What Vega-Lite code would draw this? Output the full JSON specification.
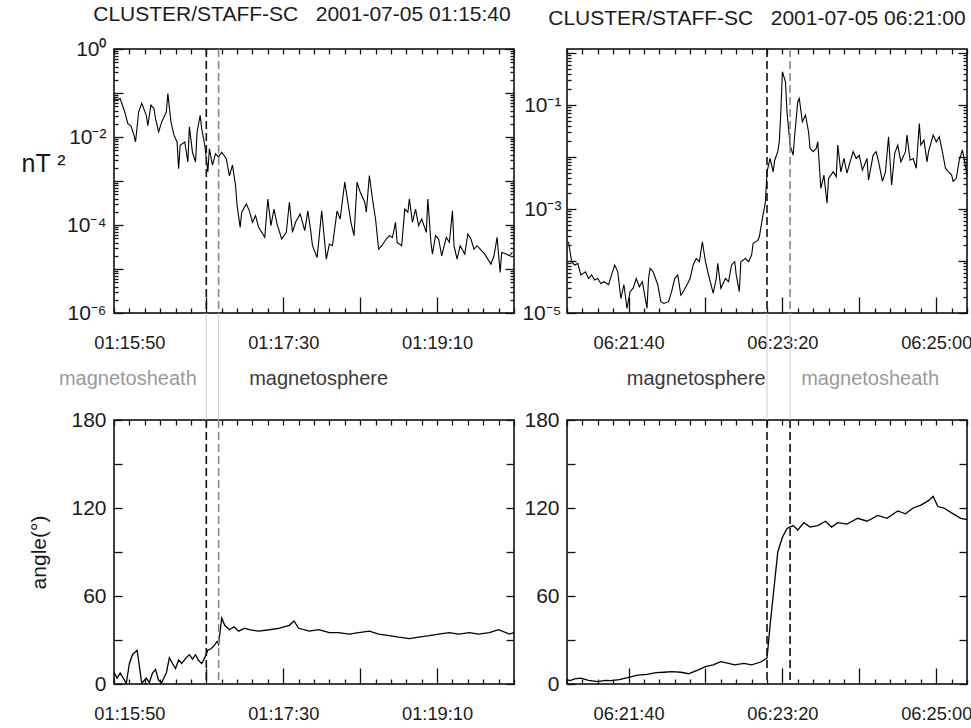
{
"$schema":"https://vega.github.io/schema/vega-lite/v6.json",
"padding":{"left":20,"top":3,"right":0,"bottom":0},
"background":"white",
"columns":2,
"spacing":{"row":107,"column":53},
"bounds":"flush",
"datasets":{
"pl":[
{"t":"2001-07-05T01:15:40Z","v":0.075},{"t":"2001-07-05T01:15:42Z","v":0.069},{"t":"2001-07-05T01:15:44Z","v":0.075},{"t":"2001-07-05T01:15:47Z","v":0.037},{"t":"2001-07-05T01:15:49Z","v":0.02},{"t":"2001-07-05T01:15:51Z","v":0.018},{"t":"2001-07-05T01:15:53Z","v":0.011},{"t":"2001-07-05T01:15:54Z","v":0.0077},{"t":"2001-07-05T01:15:56Z","v":0.037},{"t":"2001-07-05T01:15:58Z","v":0.058},
{"t":"2001-07-05T01:16:01Z","v":0.031},{"t":"2001-07-05T01:16:02Z","v":0.018},{"t":"2001-07-05T01:16:04Z","v":0.053},{"t":"2001-07-05T01:16:06Z","v":0.044},{"t":"2001-07-05T01:16:07Z","v":0.026},{"t":"2001-07-05T01:16:09Z","v":0.013},{"t":"2001-07-05T01:16:11Z","v":0.022},{"t":"2001-07-05T01:16:14Z","v":0.037},{"t":"2001-07-05T01:16:15Z","v":0.097},{"t":"2001-07-05T01:16:17Z","v":0.022},
{"t":"2001-07-05T01:16:19Z","v":0.011},{"t":"2001-07-05T01:16:21Z","v":0.0077},{"t":"2001-07-05T01:16:22Z","v":0.0019},{"t":"2001-07-05T01:16:23Z","v":0.0065},{"t":"2001-07-05T01:16:26Z","v":0.0077},{"t":"2001-07-05T01:16:28Z","v":0.0027},{"t":"2001-07-05T01:16:29Z","v":0.017},{"t":"2001-07-05T01:16:31Z","v":0.0045},{"t":"2001-07-05T01:16:33Z","v":0.0027},{"t":"2001-07-05T01:16:34Z","v":0.013},
{"t":"2001-07-05T01:16:36Z","v":0.031},{"t":"2001-07-05T01:16:37Z","v":0.0155},{"t":"2001-07-05T01:16:39Z","v":0.0065},{"t":"2001-07-05T01:16:41Z","v":0.0016},{"t":"2001-07-05T01:16:42Z","v":0.0054},{"t":"2001-07-05T01:16:44Z","v":0.0023},{"t":"2001-07-05T01:16:46Z","v":0.0042},{"t":"2001-07-05T01:16:48Z","v":0.0035},{"t":"2001-07-05T01:16:50Z","v":0.0045},{"t":"2001-07-05T01:16:53Z","v":0.0032},
{"t":"2001-07-05T01:16:55Z","v":0.0013},{"t":"2001-07-05T01:16:57Z","v":0.0023},{"t":"2001-07-05T01:16:59Z","v":0.00079},{"t":"2001-07-05T01:17:00Z","v":0.00028},{"t":"2001-07-05T01:17:02Z","v":0.0000885},{"t":"2001-07-05T01:17:03Z","v":0.000195},{"t":"2001-07-05T01:17:06Z","v":0.0003},{"t":"2001-07-05T01:17:08Z","v":0.00021},{"t":"2001-07-05T01:17:10Z","v":0.000115},{"t":"2001-07-05T01:17:12Z","v":0.000163},
{"t":"2001-07-05T01:17:14Z","v":0.0000885},{"t":"2001-07-05T01:17:18Z","v":0.0000523},{"t":"2001-07-05T01:17:20Z","v":0.00039},{"t":"2001-07-05T01:17:22Z","v":0.0000966},{"t":"2001-07-05T01:17:24Z","v":0.00023},{"t":"2001-07-05T01:17:26Z","v":0.000105},{"t":"2001-07-05T01:17:29Z","v":0.000048},{"t":"2001-07-05T01:17:32Z","v":0.000068},{"t":"2001-07-05T01:17:34Z","v":0.00033},{"t":"2001-07-05T01:17:36Z","v":0.000068},
{"t":"2001-07-05T01:17:38Z","v":0.000115},{"t":"2001-07-05T01:17:41Z","v":0.000178},{"t":"2001-07-05T01:17:44Z","v":0.0000743},{"t":"2001-07-05T01:17:46Z","v":0.00021},{"t":"2001-07-05T01:17:48Z","v":0.000068},{"t":"2001-07-05T01:17:49Z","v":0.0000338},{"t":"2001-07-05T01:17:52Z","v":0.0000183},{"t":"2001-07-05T01:17:53Z","v":0.0000403},{"t":"2001-07-05T01:17:55Z","v":0.00021},{"t":"2001-07-05T01:17:58Z","v":0.0000168},
{"t":"2001-07-05T01:18:00Z","v":0.0000369},{"t":"2001-07-05T01:18:02Z","v":0.0000338},{"t":"2001-07-05T01:18:05Z","v":0.00021},{"t":"2001-07-05T01:18:07Z","v":0.000137},{"t":"2001-07-05T01:18:10Z","v":0.00094},{"t":"2001-07-05T01:18:12Z","v":0.00033},{"t":"2001-07-05T01:18:14Z","v":0.000115},{"t":"2001-07-05T01:18:16Z","v":0.0000571},{"t":"2001-07-05T01:18:18Z","v":0.00094},{"t":"2001-07-05T01:18:20Z","v":0.00056},
{"t":"2001-07-05T01:18:23Z","v":0.00033},{"t":"2001-07-05T01:18:24Z","v":0.000195},{"t":"2001-07-05T01:18:26Z","v":0.00133},{"t":"2001-07-05T01:18:28Z","v":0.00039},{"t":"2001-07-05T01:18:30Z","v":0.000137},{"t":"2001-07-05T01:18:32Z","v":0.0000283},{"t":"2001-07-05T01:18:34Z","v":0.0000338},{"t":"2001-07-05T01:18:37Z","v":0.000048},{"t":"2001-07-05T01:18:39Z","v":0.0000571},{"t":"2001-07-05T01:18:41Z","v":0.0000523},
{"t":"2001-07-05T01:18:43Z","v":0.000115},{"t":"2001-07-05T01:18:44Z","v":0.0000403},{"t":"2001-07-05T01:18:47Z","v":0.0000338},{"t":"2001-07-05T01:18:49Z","v":0.00023},{"t":"2001-07-05T01:18:51Z","v":0.000195},{"t":"2001-07-05T01:18:52Z","v":0.00039},{"t":"2001-07-05T01:18:54Z","v":0.000115},{"t":"2001-07-05T01:18:56Z","v":0.00023},{"t":"2001-07-05T01:18:58Z","v":0.0000966},{"t":"2001-07-05T01:19:00Z","v":0.000137},
{"t":"2001-07-05T01:19:03Z","v":0.000068},{"t":"2001-07-05T01:19:04Z","v":0.00039},{"t":"2001-07-05T01:19:06Z","v":0.0000403},{"t":"2001-07-05T01:19:07Z","v":0.0000218},{"t":"2001-07-05T01:19:09Z","v":0.0000571},{"t":"2001-07-05T01:19:11Z","v":0.000048},{"t":"2001-07-05T01:19:13Z","v":0.00002},{"t":"2001-07-05T01:19:16Z","v":0.0000523},{"t":"2001-07-05T01:19:18Z","v":0.0000403},{"t":"2001-07-05T01:19:20Z","v":0.00021},
{"t":"2001-07-05T01:19:21Z","v":0.0000338},{"t":"2001-07-05T01:19:23Z","v":0.0000168},{"t":"2001-07-05T01:19:25Z","v":0.0000338},{"t":"2001-07-05T01:19:28Z","v":0.0000218},{"t":"2001-07-05T01:19:30Z","v":0.0000624},{"t":"2001-07-05T01:19:32Z","v":0.000048},{"t":"2001-07-05T01:19:34Z","v":0.0000283},{"t":"2001-07-05T01:19:36Z","v":0.0000338},{"t":"2001-07-05T01:19:38Z","v":0.0000283},{"t":"2001-07-05T01:19:41Z","v":0.0000218},
{"t":"2001-07-05T01:19:43Z","v":0.0000168},{"t":"2001-07-05T01:19:45Z","v":0.0000129},{"t":"2001-07-05T01:19:47Z","v":0.00002},{"t":"2001-07-05T01:19:49Z","v":0.0000523},{"t":"2001-07-05T01:19:51Z","v":0.0000083},{"t":"2001-07-05T01:19:52Z","v":0.0000238},{"t":"2001-07-05T01:19:55Z","v":0.0000218},{"t":"2001-07-05T01:19:57Z","v":0.00002},{"t":"2001-07-05T01:19:59Z","v":0.0000238}
],
"pr":[
{"t":"2001-07-05T06:21:01Z","v":0.000235},{"t":"2001-07-05T06:21:03Z","v":0.000097},{"t":"2001-07-05T06:21:05Z","v":0.000084},{"t":"2001-07-05T06:21:07Z","v":0.00009},{"t":"2001-07-05T06:21:09Z","v":0.000054},{"t":"2001-07-05T06:21:12Z","v":0.000062},{"t":"2001-07-05T06:21:14Z","v":0.000046},{"t":"2001-07-05T06:21:16Z","v":0.000054},{"t":"2001-07-05T06:21:18Z","v":0.000043},{"t":"2001-07-05T06:21:20Z","v":0.000046},
{"t":"2001-07-05T06:21:22Z","v":0.000037},{"t":"2001-07-05T06:21:24Z","v":0.00004},{"t":"2001-07-05T06:21:27Z","v":0.000035},{"t":"2001-07-05T06:21:29Z","v":0.000054},{"t":"2001-07-05T06:21:31Z","v":0.000084},{"t":"2001-07-05T06:21:33Z","v":0.000062},{"t":"2001-07-05T06:21:35Z","v":0.000019},{"t":"2001-07-05T06:21:37Z","v":0.000035},{"t":"2001-07-05T06:21:39Z","v":0.0000123},{"t":"2001-07-05T06:21:41Z","v":0.0000257},
{"t":"2001-07-05T06:21:43Z","v":0.00003},{"t":"2001-07-05T06:21:45Z","v":0.000046},{"t":"2001-07-05T06:21:47Z","v":0.000032},{"t":"2001-07-05T06:21:49Z","v":0.00004},{"t":"2001-07-05T06:21:52Z","v":0.0000123},{"t":"2001-07-05T06:21:53Z","v":0.000046},{"t":"2001-07-05T06:21:54Z","v":0.000072},{"t":"2001-07-05T06:21:56Z","v":0.000062},{"t":"2001-07-05T06:21:59Z","v":0.000035},{"t":"2001-07-05T06:22:01Z","v":0.0000165},
{"t":"2001-07-05T06:22:03Z","v":0.0000153},{"t":"2001-07-05T06:22:06Z","v":0.0000165},{"t":"2001-07-05T06:22:08Z","v":0.0000257},{"t":"2001-07-05T06:22:10Z","v":0.000046},{"t":"2001-07-05T06:22:12Z","v":0.000054},{"t":"2001-07-05T06:22:14Z","v":0.000022},{"t":"2001-07-05T06:22:15Z","v":0.000024},{"t":"2001-07-05T06:22:18Z","v":0.000035},{"t":"2001-07-05T06:22:20Z","v":0.000046},{"t":"2001-07-05T06:22:22Z","v":0.000084},
{"t":"2001-07-05T06:22:24Z","v":0.000112},{"t":"2001-07-05T06:22:26Z","v":0.000097},{"t":"2001-07-05T06:22:28Z","v":0.000235},{"t":"2001-07-05T06:22:30Z","v":0.000097},{"t":"2001-07-05T06:22:32Z","v":0.000054},{"t":"2001-07-05T06:22:35Z","v":0.000024},{"t":"2001-07-05T06:22:37Z","v":0.000046},{"t":"2001-07-05T06:22:38Z","v":0.00009},{"t":"2001-07-05T06:22:40Z","v":0.00003},{"t":"2001-07-05T06:22:43Z","v":0.000046},
{"t":"2001-07-05T06:22:45Z","v":0.00004},{"t":"2001-07-05T06:22:47Z","v":0.000084},{"t":"2001-07-05T06:22:49Z","v":0.000097},{"t":"2001-07-05T06:22:50Z","v":0.000054},{"t":"2001-07-05T06:22:52Z","v":0.0000257},{"t":"2001-07-05T06:22:53Z","v":0.000097},{"t":"2001-07-05T06:22:56Z","v":0.000112},{"t":"2001-07-05T06:22:58Z","v":0.000097},{"t":"2001-07-05T06:23:00Z","v":0.00013},{"t":"2001-07-05T06:23:01Z","v":0.000219},
{"t":"2001-07-05T06:23:04Z","v":0.00025},{"t":"2001-07-05T06:23:05Z","v":0.00029},{"t":"2001-07-05T06:23:07Z","v":0.00066},{"t":"2001-07-05T06:23:09Z","v":0.00138},{"t":"2001-07-05T06:23:10Z","v":0.0052},{"t":"2001-07-05T06:23:12Z","v":0.0094},{"t":"2001-07-05T06:23:14Z","v":0.0052},{"t":"2001-07-05T06:23:15Z","v":0.0087},{"t":"2001-07-05T06:23:17Z","v":0.0127},{"t":"2001-07-05T06:23:18Z","v":0.0197},
{"t":"2001-07-05T06:23:19Z","v":0.0744},{"t":"2001-07-05T06:23:20Z","v":0.438},{"t":"2001-07-05T06:23:22Z","v":0.281},{"t":"2001-07-05T06:23:23Z","v":0.0744},{"t":"2001-07-05T06:23:25Z","v":0.017},{"t":"2001-07-05T06:23:27Z","v":0.0109},{"t":"2001-07-05T06:23:28Z","v":0.0265},{"t":"2001-07-05T06:23:30Z","v":0.116},{"t":"2001-07-05T06:23:31Z","v":0.134},{"t":"2001-07-05T06:23:33Z","v":0.0478},
{"t":"2001-07-05T06:23:35Z","v":0.0642},{"t":"2001-07-05T06:23:37Z","v":0.0307},{"t":"2001-07-05T06:23:38Z","v":0.0147},{"t":"2001-07-05T06:23:40Z","v":0.0127},{"t":"2001-07-05T06:23:42Z","v":0.0147},{"t":"2001-07-05T06:23:43Z","v":0.0197},{"t":"2001-07-05T06:23:45Z","v":0.0025},{"t":"2001-07-05T06:23:47Z","v":0.0045},{"t":"2001-07-05T06:23:49Z","v":0.00129},{"t":"2001-07-05T06:23:50Z","v":0.0039},
{"t":"2001-07-05T06:23:53Z","v":0.0052},{"t":"2001-07-05T06:23:55Z","v":0.0042},{"t":"2001-07-05T06:23:56Z","v":0.017},{"t":"2001-07-05T06:23:58Z","v":0.0052},{"t":"2001-07-05T06:24:00Z","v":0.0094},{"t":"2001-07-05T06:24:02Z","v":0.0049},{"t":"2001-07-05T06:24:04Z","v":0.0081},{"t":"2001-07-05T06:24:06Z","v":0.0127},{"t":"2001-07-05T06:24:08Z","v":0.0094},{"t":"2001-07-05T06:24:10Z","v":0.0109},
{"t":"2001-07-05T06:24:12Z","v":0.0056},{"t":"2001-07-05T06:24:15Z","v":0.0094},{"t":"2001-07-05T06:24:16Z","v":0.0036},{"t":"2001-07-05T06:24:19Z","v":0.0109},{"t":"2001-07-05T06:24:21Z","v":0.0127},{"t":"2001-07-05T06:24:23Z","v":0.007},{"t":"2001-07-05T06:24:25Z","v":0.0034},{"t":"2001-07-05T06:24:27Z","v":0.0052},{"t":"2001-07-05T06:24:29Z","v":0.0246},{"t":"2001-07-05T06:24:31Z","v":0.0029},
{"t":"2001-07-05T06:24:33Z","v":0.0118},{"t":"2001-07-05T06:24:35Z","v":0.017},{"t":"2001-07-05T06:24:37Z","v":0.0081},{"t":"2001-07-05T06:24:40Z","v":0.0127},{"t":"2001-07-05T06:24:41Z","v":0.0265},{"t":"2001-07-05T06:24:43Z","v":0.0087},{"t":"2001-07-05T06:24:45Z","v":0.0094},{"t":"2001-07-05T06:24:47Z","v":0.0061},{"t":"2001-07-05T06:24:49Z","v":0.0444},{"t":"2001-07-05T06:24:50Z","v":0.017},
{"t":"2001-07-05T06:24:52Z","v":0.0212},{"t":"2001-07-05T06:24:54Z","v":0.0081},{"t":"2001-07-05T06:24:55Z","v":0.0127},{"t":"2001-07-05T06:24:58Z","v":0.0265},{"t":"2001-07-05T06:25:00Z","v":0.0197},{"t":"2001-07-05T06:25:02Z","v":0.0246},{"t":"2001-07-05T06:25:04Z","v":0.0127},{"t":"2001-07-05T06:25:06Z","v":0.0061},{"t":"2001-07-05T06:25:08Z","v":0.0052},{"t":"2001-07-05T06:25:10Z","v":0.0045},
{"t":"2001-07-05T06:25:11Z","v":0.0034},{"t":"2001-07-05T06:25:13Z","v":0.0039},{"t":"2001-07-05T06:25:15Z","v":0.0087},{"t":"2001-07-05T06:25:17Z","v":0.0137},{"t":"2001-07-05T06:25:20Z","v":0.0045}
],
"al":[
{"t":"2001-07-05T01:15:40Z","a":8},{"t":"2001-07-05T01:15:42Z","a":4},{"t":"2001-07-05T01:15:44Z","a":7.5},{"t":"2001-07-05T01:15:48Z","a":0.5},{"t":"2001-07-05T01:15:50Z","a":14},{"t":"2001-07-05T01:15:52Z","a":20},{"t":"2001-07-05T01:15:55Z","a":23},{"t":"2001-07-05T01:15:56Z","a":16},{"t":"2001-07-05T01:15:58Z","a":0.5},{"t":"2001-07-05T01:16:01Z","a":4},
{"t":"2001-07-05T01:16:03Z","a":1},{"t":"2001-07-05T01:16:05Z","a":7.5},{"t":"2001-07-05T01:16:07Z","a":10},{"t":"2001-07-05T01:16:09Z","a":2.5},{"t":"2001-07-05T01:16:11Z","a":1},{"t":"2001-07-05T01:16:14Z","a":7.5},{"t":"2001-07-05T01:16:16Z","a":18},{"t":"2001-07-05T01:16:18Z","a":14},{"t":"2001-07-05T01:16:20Z","a":10.6},{"t":"2001-07-05T01:16:22Z","a":16.4},
{"t":"2001-07-05T01:16:24Z","a":14},{"t":"2001-07-05T01:16:27Z","a":18},{"t":"2001-07-05T01:16:29Z","a":20},{"t":"2001-07-05T01:16:31Z","a":17},{"t":"2001-07-05T01:16:33Z","a":20},{"t":"2001-07-05T01:16:35Z","a":16},{"t":"2001-07-05T01:16:37Z","a":14},{"t":"2001-07-05T01:16:39Z","a":18},{"t":"2001-07-05T01:16:41Z","a":23},{"t":"2001-07-05T01:16:43Z","a":24},
{"t":"2001-07-05T01:16:45Z","a":26},{"t":"2001-07-05T01:16:47Z","a":29},{"t":"2001-07-05T01:16:48Z","a":27},{"t":"2001-07-05T01:16:50Z","a":45},{"t":"2001-07-05T01:16:52Z","a":40},{"t":"2001-07-05T01:16:55Z","a":37},{"t":"2001-07-05T01:16:58Z","a":39},{"t":"2001-07-05T01:17:01Z","a":36},{"t":"2001-07-05T01:17:05Z","a":38},{"t":"2001-07-05T01:17:08Z","a":37},
{"t":"2001-07-05T01:17:14Z","a":36},{"t":"2001-07-05T01:17:21Z","a":37},{"t":"2001-07-05T01:17:27Z","a":38},{"t":"2001-07-05T01:17:34Z","a":40},{"t":"2001-07-05T01:17:37Z","a":43},{"t":"2001-07-05T01:17:40Z","a":38},{"t":"2001-07-05T01:17:47Z","a":36},{"t":"2001-07-05T01:17:53Z","a":37},{"t":"2001-07-05T01:18:00Z","a":35},{"t":"2001-07-05T01:18:06Z","a":35},
{"t":"2001-07-05T01:18:13Z","a":34},{"t":"2001-07-05T01:18:19Z","a":35},{"t":"2001-07-05T01:18:26Z","a":36},{"t":"2001-07-05T01:18:32Z","a":34},{"t":"2001-07-05T01:18:39Z","a":33},{"t":"2001-07-05T01:18:45Z","a":32},{"t":"2001-07-05T01:18:52Z","a":31},{"t":"2001-07-05T01:18:58Z","a":32},{"t":"2001-07-05T01:19:05Z","a":33},{"t":"2001-07-05T01:19:11Z","a":34},
{"t":"2001-07-05T01:19:18Z","a":35},{"t":"2001-07-05T01:19:24Z","a":34},{"t":"2001-07-05T01:19:31Z","a":35},{"t":"2001-07-05T01:19:37Z","a":34},{"t":"2001-07-05T01:19:44Z","a":35},{"t":"2001-07-05T01:19:50Z","a":37},{"t":"2001-07-05T01:19:57Z","a":34},{"t":"2001-07-05T01:20:00Z","a":35}
],
"ar":[
{"t":"2001-07-05T06:21:00Z","a":3},{"t":"2001-07-05T06:21:02Z","a":2.3},{"t":"2001-07-05T06:21:05Z","a":3.5},{"t":"2001-07-05T06:21:09Z","a":4},{"t":"2001-07-05T06:21:14Z","a":2.5},{"t":"2001-07-05T06:21:20Z","a":1.6},{"t":"2001-07-05T06:21:25Z","a":2.5},{"t":"2001-07-05T06:21:29Z","a":2.3},{"t":"2001-07-05T06:21:34Z","a":3},{"t":"2001-07-05T06:21:38Z","a":4},
{"t":"2001-07-05T06:21:42Z","a":5},{"t":"2001-07-05T06:21:46Z","a":6.1},{"t":"2001-07-05T06:21:52Z","a":6.5},{"t":"2001-07-05T06:21:58Z","a":7.7},{"t":"2001-07-05T06:22:03Z","a":8},{"t":"2001-07-05T06:22:08Z","a":8.4},{"t":"2001-07-05T06:22:14Z","a":8},{"t":"2001-07-05T06:22:19Z","a":7},{"t":"2001-07-05T06:22:25Z","a":9.5},{"t":"2001-07-05T06:22:30Z","a":11.8},
{"t":"2001-07-05T06:22:35Z","a":13},{"t":"2001-07-05T06:22:40Z","a":15.2},{"t":"2001-07-05T06:22:45Z","a":14},{"t":"2001-07-05T06:22:49Z","a":13},{"t":"2001-07-05T06:22:55Z","a":14},{"t":"2001-07-05T06:23:00Z","a":13},{"t":"2001-07-05T06:23:06Z","a":15},{"t":"2001-07-05T06:23:10Z","a":17.7},{"t":"2001-07-05T06:23:12Z","a":40},{"t":"2001-07-05T06:23:15Z","a":70},
{"t":"2001-07-05T06:23:17Z","a":90},{"t":"2001-07-05T06:23:20Z","a":100},{"t":"2001-07-05T06:23:23Z","a":106},{"t":"2001-07-05T06:23:27Z","a":108},{"t":"2001-07-05T06:23:30Z","a":105},{"t":"2001-07-05T06:23:34Z","a":110},{"t":"2001-07-05T06:23:38Z","a":107},{"t":"2001-07-05T06:23:43Z","a":108},{"t":"2001-07-05T06:23:48Z","a":111},{"t":"2001-07-05T06:23:52Z","a":107},
{"t":"2001-07-05T06:23:56Z","a":110},{"t":"2001-07-05T06:24:02Z","a":109},{"t":"2001-07-05T06:24:09Z","a":113},{"t":"2001-07-05T06:24:15Z","a":111},{"t":"2001-07-05T06:24:22Z","a":115},{"t":"2001-07-05T06:24:28Z","a":113},{"t":"2001-07-05T06:24:35Z","a":118},{"t":"2001-07-05T06:24:40Z","a":116},{"t":"2001-07-05T06:24:45Z","a":120},{"t":"2001-07-05T06:24:50Z","a":122},
{"t":"2001-07-05T06:24:55Z","a":125},{"t":"2001-07-05T06:24:58Z","a":128},{"t":"2001-07-05T06:25:01Z","a":121},{"t":"2001-07-05T06:25:05Z","a":120},{"t":"2001-07-05T06:25:11Z","a":116},{"t":"2001-07-05T06:25:16Z","a":113},{"t":"2001-07-05T06:25:20Z","a":112}
],
"el":[{"t":"2001-07-05T01:16:40Z","edge":"first"},{"t":"2001-07-05T01:16:48Z","edge":"second"}],
"er":[{"t":"2001-07-05T06:23:10Z","edge":"first"},{"t":"2001-07-05T06:23:25Z","edge":"second"}],
"zl":[{"t":"2001-07-05T01:15:49Z","label":"magnetosheath","zone":"sheath"},{"t":"2001-07-05T01:17:53Z","label":"magnetosphere","zone":"sphere"}],
"zr":[{"t":"2001-07-05T06:22:24Z","label":"magnetosphere","zone":"sphere"},{"t":"2001-07-05T06:24:17Z","label":"magnetosheath","zone":"sheath"}]
},
"concat":[
{
"width":400,"height":264,
"title":{"text":"CLUSTER/STAFF-SC\u00a0\u00a0\u00a02001-07-05 01:15:40","fontSize":21,"font":"Liberation Sans","fontWeight":"normal","color":"#1a1a1a","anchor":"middle","dx":-12,"baseline":"bottom","offset":-8},
"data":{"name":"pl"},
"layer":[
{"mark":{"type":"line","color":"black","strokeWidth":1.1},
"encoding":{
"x":{"field":"t","type":"temporal","scale":{"type":"utc","domain":[994295740000,994296000000],"nice":false},
 "axis":{"orient":"bottom","values":[994295740000,994295750000,994295760000,994295770000,994295780000,994295790000,994295800000,994295810000,994295820000,994295830000,994295840000,994295850000,994295860000,994295870000,994295880000,994295890000,994295900000,994295910000,994295920000,994295930000,994295940000,994295950000,994295960000,994295970000,994295980000,994295990000,994296000000],"tickSize":-16,"tickDash":{"condition":{"test":"(utcminutes(datum.value)*60+utcseconds(datum.value))%50==0 && utcminutes(datum.value)>=16 && utcminutes(datum.value)<=19","value":[]},"value":[5,100]},"labelExpr":"(utcminutes(datum.value)*60+utcseconds(datum.value))%100==50 ? utcFormat(datum.value,'%H:%M:%S') : ''","labelFontSize":18.3,"labelPadding":37,"title":null}},
"y":{"field":"v","type":"quantitative","scale":{"type":"log","domain":[0.000001,1],"nice":false},
 "axis":{"orient":"left","values":[0.000001,2e-6,3e-6,4e-6,5e-6,6e-6,7e-6,8e-6,9e-6,0.00001,2e-5,3e-5,4e-5,5e-5,6e-5,7e-5,8e-5,9e-5,0.0001,2e-4,3e-4,4e-4,5e-4,6e-4,7e-4,8e-4,9e-4,0.001,0.002,0.003,0.004,0.005,0.006,0.007,0.008,0.009,0.01,0.02,0.03,0.04,0.05,0.06,0.07,0.08,0.09,0.1,0.2,0.3,0.4,0.5,0.6,0.7,0.8,0.9,1],"tickSize":-9,"tickDash":{"condition":{"test":"abs(log(datum.value)/LN10-round(log(datum.value)/LN10))<0.01","value":[]},"value":[4,100]},"labelExpr":"datum.value==1?'10⁰':datum.value==0.01?'10⁻²':datum.value==0.0001?'10⁻⁴':datum.value==0.000001?'10⁻⁶':''","labelFontSize":21,"labelPadding":17,"title":"nT ²","titleAngle":0,"titleX":-93,"titleY":114,"titleAlign":"left","titleBaseline":"middle","titleFontSize":25}}}},
{"data":{"name":"el"},"mark":{"type":"rule","strokeWidth":1.6,"strokeDash":[8,4]},
"encoding":{"x":{"field":"t","type":"temporal","axis":{"orient":"top","values":[994295740000,994295750000,994295760000,994295770000,994295780000,994295790000,994295800000,994295810000,994295820000,994295830000,994295840000,994295850000,994295860000,994295870000,994295880000,994295890000,994295900000,994295910000,994295920000,994295930000,994295940000,994295950000,994295960000,994295970000,994295980000,994295990000,994296000000],"tickSize":-5,"labels":false,"title":null,"minExtent":0,"maxExtent":0}},"color":{"field":"edge","type":"nominal","scale":{"domain":["first","second"],"range":["#111111","#8a8a8a"]},"legend":null}}},
{"mark":{"type":"line","opacity":0},
"encoding":{
"x":{"field":"t","type":"temporal","axis":null},
"y":{"field":"v","type":"quantitative","axis":{"orient":"right","values":[0.000001,2e-6,3e-6,4e-6,5e-6,6e-6,7e-6,8e-6,9e-6,0.00001,2e-5,3e-5,4e-5,5e-5,6e-5,7e-5,8e-5,9e-5,0.0001,2e-4,3e-4,4e-4,5e-4,6e-4,7e-4,8e-4,9e-4,0.001,0.002,0.003,0.004,0.005,0.006,0.007,0.008,0.009,0.01,0.02,0.03,0.04,0.05,0.06,0.07,0.08,0.09,0.1,0.2,0.3,0.4,0.5,0.6,0.7,0.8,0.9,1],"tickSize":-9,"tickDash":{"condition":{"test":"abs(log(datum.value)/LN10-round(log(datum.value)/LN10))<0.01","value":[]},"value":[4,100]},"labels":false,"title":null,"minExtent":0,"maxExtent":0}}}}
],
"resolve":{"axis":{"x":"independent","y":"independent"}}
},
{
"width":400,"height":264,
"title":{"text":"CLUSTER/STAFF-SC\u00a0\u00a0\u00a02001-07-05 06:21:00","fontSize":21,"font":"Liberation Sans","fontWeight":"normal","color":"#1a1a1a","anchor":"middle","dx":-10,"baseline":"bottom","offset":-8},
"data":{"name":"pr"},
"layer":[
{"mark":{"type":"line","color":"black","strokeWidth":1.1},
"encoding":{
"x":{"field":"t","type":"temporal","scale":{"type":"utc","domain":[994314060000,994314320000],"nice":false},
 "axis":{"orient":"bottom","values":[994314060000,994314070000,994314080000,994314090000,994314100000,994314110000,994314120000,994314130000,994314140000,994314150000,994314160000,994314170000,994314180000,994314190000,994314200000,994314210000,994314220000,994314230000,994314240000,994314250000,994314260000,994314270000,994314280000,994314290000,994314300000,994314310000,994314320000],"tickSize":-16,"tickDash":{"condition":{"test":"(utcminutes(datum.value)*60+utcseconds(datum.value))%50==0","value":[]},"value":[5,100]},"labelExpr":"(utcminutes(datum.value)*60+utcseconds(datum.value))%100==0 ? utcFormat(datum.value,'%H:%M:%S') : ''","labelFontSize":18.3,"labelPadding":37,"title":null}},
"y":{"field":"v","type":"quantitative","scale":{"type":"log","domain":[0.00001,1.2],"nice":false},
 "axis":{"orient":"left","values":[0.00001,2e-5,3e-5,4e-5,5e-5,6e-5,7e-5,8e-5,9e-5,0.0001,2e-4,3e-4,4e-4,5e-4,6e-4,7e-4,8e-4,9e-4,0.001,0.002,0.003,0.004,0.005,0.006,0.007,0.008,0.009,0.01,0.02,0.03,0.04,0.05,0.06,0.07,0.08,0.09,0.1,0.2,0.3,0.4,0.5,0.6,0.7,0.8,0.9,1],"tickSize":-9,"tickDash":{"condition":{"test":"abs(log(datum.value)/LN10-round(log(datum.value)/LN10))<0.01","value":[]},"value":[4,100]},"labelExpr":"datum.value==0.1?'10⁻¹':datum.value==0.001?'10⁻³':datum.value==0.00001?'10⁻⁵':''","labelFontSize":21,"labelPadding":15,"title":null}}}},
{"data":{"name":"er"},"mark":{"type":"rule","strokeWidth":1.6,"strokeDash":[8,4]},
"encoding":{"x":{"field":"t","type":"temporal","axis":{"orient":"top","values":[994314060000,994314070000,994314080000,994314090000,994314100000,994314110000,994314120000,994314130000,994314140000,994314150000,994314160000,994314170000,994314180000,994314190000,994314200000,994314210000,994314220000,994314230000,994314240000,994314250000,994314260000,994314270000,994314280000,994314290000,994314300000,994314310000,994314320000],"tickSize":-5,"labels":false,"title":null,"minExtent":0,"maxExtent":0}},"color":{"field":"edge","type":"nominal","scale":{"domain":["first","second"],"range":["#111111","#111111"]},"legend":null}}},
{"mark":{"type":"line","opacity":0},
"encoding":{
"x":{"field":"t","type":"temporal","axis":null},
"y":{"field":"v","type":"quantitative","axis":{"orient":"right","values":[0.00001,2e-5,3e-5,4e-5,5e-5,6e-5,7e-5,8e-5,9e-5,0.0001,2e-4,3e-4,4e-4,5e-4,6e-4,7e-4,8e-4,9e-4,0.001,0.002,0.003,0.004,0.005,0.006,0.007,0.008,0.009,0.01,0.02,0.03,0.04,0.05,0.06,0.07,0.08,0.09,0.1,0.2,0.3,0.4,0.5,0.6,0.7,0.8,0.9,1],"tickSize":-9,"tickDash":{"condition":{"test":"abs(log(datum.value)/LN10-round(log(datum.value)/LN10))<0.01","value":[]},"value":[4,100]},"labels":false,"title":null,"minExtent":0,"maxExtent":0}}}}
],
"resolve":{"axis":{"x":"independent","y":"independent"}}
},
{
"width":400,"height":264,
"data":{"name":"al"},
"layer":[
{"mark":{"type":"line","color":"black","strokeWidth":1.3},
"encoding":{
"x":{"field":"t","type":"temporal","scale":{"type":"utc","domain":[994295740000,994296000000],"nice":false},
 "axis":{"orient":"bottom","values":[994295740000,994295750000,994295760000,994295770000,994295780000,994295790000,994295800000,994295810000,994295820000,994295830000,994295840000,994295850000,994295860000,994295870000,994295880000,994295890000,994295900000,994295910000,994295920000,994295930000,994295940000,994295950000,994295960000,994295970000,994295980000,994295990000,994296000000],"tickSize":-16,"tickDash":{"condition":{"test":"(utcminutes(datum.value)*60+utcseconds(datum.value))%50==0 && utcminutes(datum.value)>=16 && utcminutes(datum.value)<=19","value":[]},"value":[5,100]},"labelExpr":"(utcminutes(datum.value)*60+utcseconds(datum.value))%100==50 ? utcFormat(datum.value,'%H:%M:%S') : ''","labelFontSize":18.3,"labelPadding":37,"title":null}},
"y":{"field":"a","type":"quantitative","scale":{"domain":[0,180],"nice":false},
 "axis":{"orient":"left","values":[0,30,60,90,120,150,180],"tickSize":-8,"labelExpr":"datum.value%60==0 ? datum.label : ''","labelFontSize":21,"labelPadding":16,"title":"angle(°)","titleAngle":270,"titleX":-75,"titleY":132,"titleAlign":"center","titleBaseline":"middle","titleFontSize":21}}}},
{"data":{"name":"el"},"mark":{"type":"rule","strokeWidth":1.6,"strokeDash":[8,4]},
"encoding":{"x":{"field":"t","type":"temporal","axis":{"orient":"top","values":[994295740000,994295750000,994295760000,994295770000,994295780000,994295790000,994295800000,994295810000,994295820000,994295830000,994295840000,994295850000,994295860000,994295870000,994295880000,994295890000,994295900000,994295910000,994295920000,994295930000,994295940000,994295950000,994295960000,994295970000,994295980000,994295990000,994296000000],"tickSize":-5,"labels":false,"title":null,"minExtent":0,"maxExtent":0}},"color":{"field":"edge","type":"nominal","scale":{"domain":["first","second"],"range":["#111111","#8a8a8a"]},"legend":null}}},
{"mark":{"type":"line","opacity":0},
"encoding":{
"x":{"field":"t","type":"temporal","axis":null},
"y":{"field":"a","type":"quantitative","axis":{"orient":"right","values":[0,30,60,90,120,150,180],"tickSize":-8,"labels":false,"title":null,"minExtent":0,"maxExtent":0}}}},
{"data":{"name":"el"},"mark":{"type":"rule","strokeWidth":1,"color":"#cccccc"},
"encoding":{"x":{"field":"t","type":"temporal","axis":null},"y":{"datum":180,"type":"quantitative","axis":null},"y2":{"datum":253}}},
{"data":{"name":"zl"},"mark":{"type":"text","fontSize":20,"font":"Liberation Sans","baseline":"middle","align":"center"},
"encoding":{"x":{"field":"t","type":"temporal","axis":null},"y":{"datum":208,"type":"quantitative","axis":null},"text":{"field":"label"},"color":{"field":"zone","type":"nominal","scale":{"domain":["sheath","sphere"],"range":["#9a9a9a","#3a3a3a"]},"legend":null}}}
],
"resolve":{"axis":{"x":"independent","y":"independent"},"scale":{"color":"independent"}}
},
{
"width":400,"height":264,
"data":{"name":"ar"},
"layer":[
{"mark":{"type":"line","color":"black","strokeWidth":1.3},
"encoding":{
"x":{"field":"t","type":"temporal","scale":{"type":"utc","domain":[994314060000,994314320000],"nice":false},
 "axis":{"orient":"bottom","values":[994314060000,994314070000,994314080000,994314090000,994314100000,994314110000,994314120000,994314130000,994314140000,994314150000,994314160000,994314170000,994314180000,994314190000,994314200000,994314210000,994314220000,994314230000,994314240000,994314250000,994314260000,994314270000,994314280000,994314290000,994314300000,994314310000,994314320000],"tickSize":-16,"tickDash":{"condition":{"test":"(utcminutes(datum.value)*60+utcseconds(datum.value))%50==0","value":[]},"value":[5,100]},"labelExpr":"(utcminutes(datum.value)*60+utcseconds(datum.value))%100==0 ? utcFormat(datum.value,'%H:%M:%S') : ''","labelFontSize":18.3,"labelPadding":37,"title":null}},
"y":{"field":"a","type":"quantitative","scale":{"domain":[0,180],"nice":false},
 "axis":{"orient":"left","values":[0,30,60,90,120,150,180],"tickSize":-8,"labelExpr":"datum.value%60==0 ? datum.label : ''","labelFontSize":21,"labelPadding":16,"title":null}}}},
{"data":{"name":"er"},"mark":{"type":"rule","strokeWidth":1.6,"strokeDash":[8,4]},
"encoding":{"x":{"field":"t","type":"temporal","axis":{"orient":"top","values":[994314060000,994314070000,994314080000,994314090000,994314100000,994314110000,994314120000,994314130000,994314140000,994314150000,994314160000,994314170000,994314180000,994314190000,994314200000,994314210000,994314220000,994314230000,994314240000,994314250000,994314260000,994314270000,994314280000,994314290000,994314300000,994314310000,994314320000],"tickSize":-5,"labels":false,"title":null,"minExtent":0,"maxExtent":0}},"color":{"field":"edge","type":"nominal","scale":{"domain":["first","second"],"range":["#111111","#111111"]},"legend":null}}},
{"mark":{"type":"line","opacity":0},
"encoding":{
"x":{"field":"t","type":"temporal","axis":null},
"y":{"field":"a","type":"quantitative","axis":{"orient":"right","values":[0,30,60,90,120,150,180],"tickSize":-8,"labels":false,"title":null,"minExtent":0,"maxExtent":0}}}},
{"data":{"name":"er"},"mark":{"type":"rule","strokeWidth":1,"color":"#cccccc"},
"encoding":{"x":{"field":"t","type":"temporal","axis":null},"y":{"datum":180,"type":"quantitative","axis":null},"y2":{"datum":253}}},
{"data":{"name":"zr"},"mark":{"type":"text","fontSize":20,"font":"Liberation Sans","baseline":"middle","align":"center"},
"encoding":{"x":{"field":"t","type":"temporal","axis":null},"y":{"datum":208,"type":"quantitative","axis":null},"text":{"field":"label"},"color":{"field":"zone","type":"nominal","scale":{"domain":["sheath","sphere"],"range":["#9a9a9a","#3a3a3a"]},"legend":null}}}
],
"resolve":{"axis":{"x":"independent","y":"independent"},"scale":{"color":"independent"}}
}
],
"config":{
"view":{"stroke":"black","strokeWidth":1.5},
"axis":{"domain":false,"grid":false,"tickColor":"#111111","tickWidth":1.3,"labelColor":"#1a1a1a","labelFont":"Liberation Sans","titleFont":"Liberation Sans","titleFontWeight":"normal","titleColor":"#1a1a1a","labelFlush":false,"labelOverlap":false,"labelBound":false}
}
}
